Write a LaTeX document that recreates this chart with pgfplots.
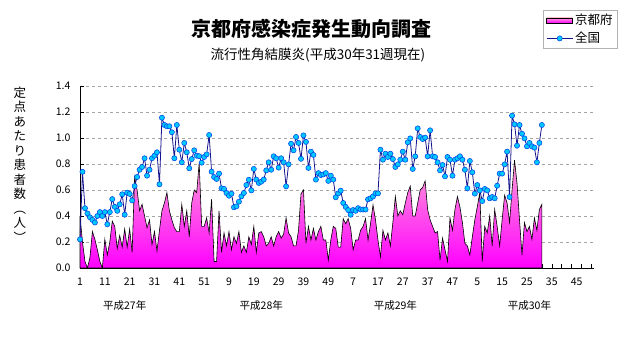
\documentclass[border=0pt]{standalone}
\usepackage{pgfplots}
\usepackage{pgfplotstable}
\pgfplotsset{compat=1.18}
\usepackage{fontspec}
\setmainfont{Noto Sans CJK JP}
\definecolor{natline}{RGB}{20,20,140}
\definecolor{natmark}{RGB}{0,200,255}
\definecolor{natedge}{RGB}{0,60,230}
\definecolor{kyotop}{RGB}{255,160,215}
\definecolor{kyobot}{RGB}{255,0,255}
\pgfplotsset{
  arealeg/.style={legend image code/.code={\draw[##1, line width=0.5pt] (0pt,-2.5pt) rectangle (26pt,2.5pt);}},
  lineleg/.style={legend image code/.code={\draw[##1, mark repeat=2, mark phase=2] plot coordinates {(0pt,0pt) (13pt,0pt) (26pt,0pt)};}},
}
\pgfplotstableread{
w kyoto zenkoku
1 0.40 0.22
2 0.20 0.74
3 0.05 0.46
4 0.00 0.42
5 0.08 0.39
6 0.28 0.37
7 0.22 0.35
8 0.14 0.40
9 0.05 0.43
10 0.00 0.40
11 0.22 0.43
12 0.10 0.336
13 0.20 0.43
14 0.36 0.53
15 0.32 0.47
16 0.15 0.44
17 0.25 0.49
18 0.16 0.567
19 0.30 0.41
20 0.16 0.58
21 0.30 0.57
22 0.12 0.52
23 0.70 0.63
24 0.60 0.70
25 0.44 0.756
26 0.49 0.777
27 0.40 0.844
28 0.31 0.71
29 0.37 0.756
30 0.18 0.844
31 0.28 0.864
32 0.13 0.89
33 0.29 0.644
34 0.44 1.156
35 0.50 1.10
36 0.58 1.09
37 0.44 1.09
38 0.37 1.044
39 0.31 0.844
40 0.28 1.10
41 0.28 0.91
42 0.49 0.813
43 0.32 0.962
44 0.44 0.89
45 0.24 0.767
46 0.50 0.838
47 0.60 0.905
48 0.58 0.864
49 0.81 0.86
50 0.32 0.81
51 0.32 0.854
52 0.385 0.874
53 0.27 1.023
54 0.53 0.741
55 0.05 0.70
56 0.05 0.685
57 0.44 0.726
58 0.12 0.613
59 0.27 0.608
60 0.17 0.577
61 0.28 0.556
62 0.14 0.572
63 0.24 0.467
64 0.19 0.474
65 0.28 0.51
66 0.12 0.551
67 0.17 0.577
68 0.12 0.638
69 0.24 0.679
70 0.18 0.597
71 0.32 0.762
72 0.12 0.68
73 0.27 0.654
74 0.28 0.664
75 0.24 0.68
76 0.17 0.751
77 0.19 0.813
78 0.24 0.756
79 0.17 0.859
80 0.24 0.844
81 0.28 0.772
82 0.23 0.844
83 0.26 0.813
84 0.385 0.628
85 0.27 0.797
86 0.24 0.956
87 0.17 0.905
88 0.17 1.008
89 0.29 0.962
90 0.57 0.84
91 0.60 1.02
92 0.19 0.97
93 0.32 0.77
94 0.215 0.895
95 0.305 0.87
96 0.215 0.68
97 0.28 0.73
98 0.32 0.715
99 0.215 0.72
100 0.215 0.73
101 0.06 0.67
102 0.215 0.71
103 0.32 0.68
104 0.305 0.544
105 0.16 0.574
106 0.16 0.595
107 0.38 0.50
108 0.34 0.47
109 0.38 0.446
110 0.305 0.41
111 0.14 0.446
112 0.215 0.44
113 0.215 0.46
114 0.29 0.45
115 0.32 0.45
116 0.38 0.45
117 0.215 0.528
118 0.34 0.536
119 0.485 0.55
120 0.37 0.574
121 0.215 0.574
122 0.087 0.91
123 0.29 0.833
124 0.215 0.879
125 0.27 0.854
126 0.17 0.879
127 0.35 0.838
128 0.55 0.777
129 0.40 0.797
130 0.44 0.833
131 0.41 0.895
132 0.50 0.833
133 0.58 0.967
134 0.63 0.997
135 0.40 0.762
136 0.40 0.859
137 0.50 1.074
138 0.60 1.008
139 0.62 0.992
140 0.67 1.003
141 0.45 0.859
142 0.37 1.059
143 0.32 0.859
144 0.27 0.854
145 0.28 0.813
146 0.06 0.751
147 0.23 0.792
148 0.14 0.705
149 0.05 0.854
150 0.385 0.833
151 0.29 0.71
152 0.45 0.833
153 0.55 0.844
154 0.47 0.859
155 0.35 0.833
156 0.19 0.756
157 0.17 0.613
158 0.10 0.823
159 0.24 0.736
160 0.37 0.572
161 0.47 0.638
162 0.58 0.597
163 0.05 0.515
164 0.32 0.608
165 0.27 0.597
166 0.40 0.536
167 0.17 0.546
168 0.45 0.536
169 0.32 0.633
170 0.17 0.726
171 0.37 0.726
172 0.56 0.797
173 0.50 0.895
174 0.35 0.546
175 0.60 1.172
176 0.83 1.105
177 0.65 0.941
178 0.37 1.10
179 0.10 1.033
180 0.35 0.997
181 0.28 0.936
182 0.32 0.962
183 0.22 0.936
184 0.385 0.926
185 0.29 0.813
186 0.45 0.962
187 0.49 1.10
}\datatable
\begin{document}
\begin{tikzpicture}
\path[use as bounding box] (-80pt,-79pt) rectangle (551pt,268pt);
\begin{axis}[
  at={(0pt,0pt)}, anchor=south west,
  scale only axis, width=514pt, height=182pt,
  xmin=1, xmax=208, ymin=0, ymax=1.4,
  axis x line*=bottom, axis y line*=left,
  axis line style={black, line width=0.8pt},
  xtick={3,7,...,207},
  xticklabels={},
  extra x ticks={1,11,...,201},
  extra x tick labels={1,11,21,31,41,51,9,19,29,39,49,7,17,27,37,47,5,15,25,35,45},
  extra x tick style={tick style={draw=none}},
  ytick={0,0.2,...,1.4},
  yticklabel style={/pgf/number format/fixed, /pgf/number format/fixed zerofill,
    /pgf/number format/precision=1, xshift=-6pt},
  /pgf/number format/assume math mode=true,
  ticklabel style={font=\fontsize{10.5}{12}\selectfont},
  xticklabel style={yshift=-6pt},
  tick style={black, line width=0.5pt},
  tick align=inside,
  major tick length=4pt,
  ymajorgrids, major grid style={gray!70, dashed, line width=0.5pt},
  legend style={at={(rel axis cs:1.0467,1.4176)}, anchor=north east, draw=gray!60, line width=0.8pt,
    font=\fontsize{12.5}{14}\selectfont, inner xsep=3pt, inner ysep=2pt, row sep=2pt,
    cells={anchor=west}},
  legend cell align=left,
  clip=false,
]
\addplot[draw=black, line width=0.6pt, top color=kyotop, bottom color=kyobot, arealeg]
  table[x=w, y=kyoto] {\datatable} \closedcycle;
\addlegendentry{京都府}
\addplot[natline, line width=0.8pt, mark=*, mark size=2.6pt,
  mark options={fill=natmark, draw=natedge, line width=0.5pt}, lineleg]
  table[x=w, y=zenkoku] {\datatable};
\addlegendentry{全国}
\node[font=\fontsize{10.5}{12}\selectfont] at (axis cs:19,0) [yshift=-38pt] {平成27年};
\node[font=\fontsize{10.5}{12}\selectfont] at (axis cs:74,0) [yshift=-38pt] {平成28年};
\node[font=\fontsize{10.5}{12}\selectfont] at (axis cs:128,0) [yshift=-38pt] {平成29年};
\node[font=\fontsize{10.5}{12}\selectfont] at (axis cs:182,0) [yshift=-38pt] {平成30年};
\end{axis}
\node[font=\fontsize{20}{22}\selectfont\bfseries] at (231pt,239pt) {京都府感染症発生動向調査};
\node[font=\fontsize{13.5}{15}\selectfont] at (238pt,213pt) {流行性角結膜炎(平成30年31週現在)};
\node[font=\fontsize{12.5}{14.5}\selectfont, align=center, anchor=north] at (-60pt,185pt)
  {定\\点\\あ\\た\\り\\患\\者\\数\\︵\\人\\︶};
\end{tikzpicture}
\end{document}
